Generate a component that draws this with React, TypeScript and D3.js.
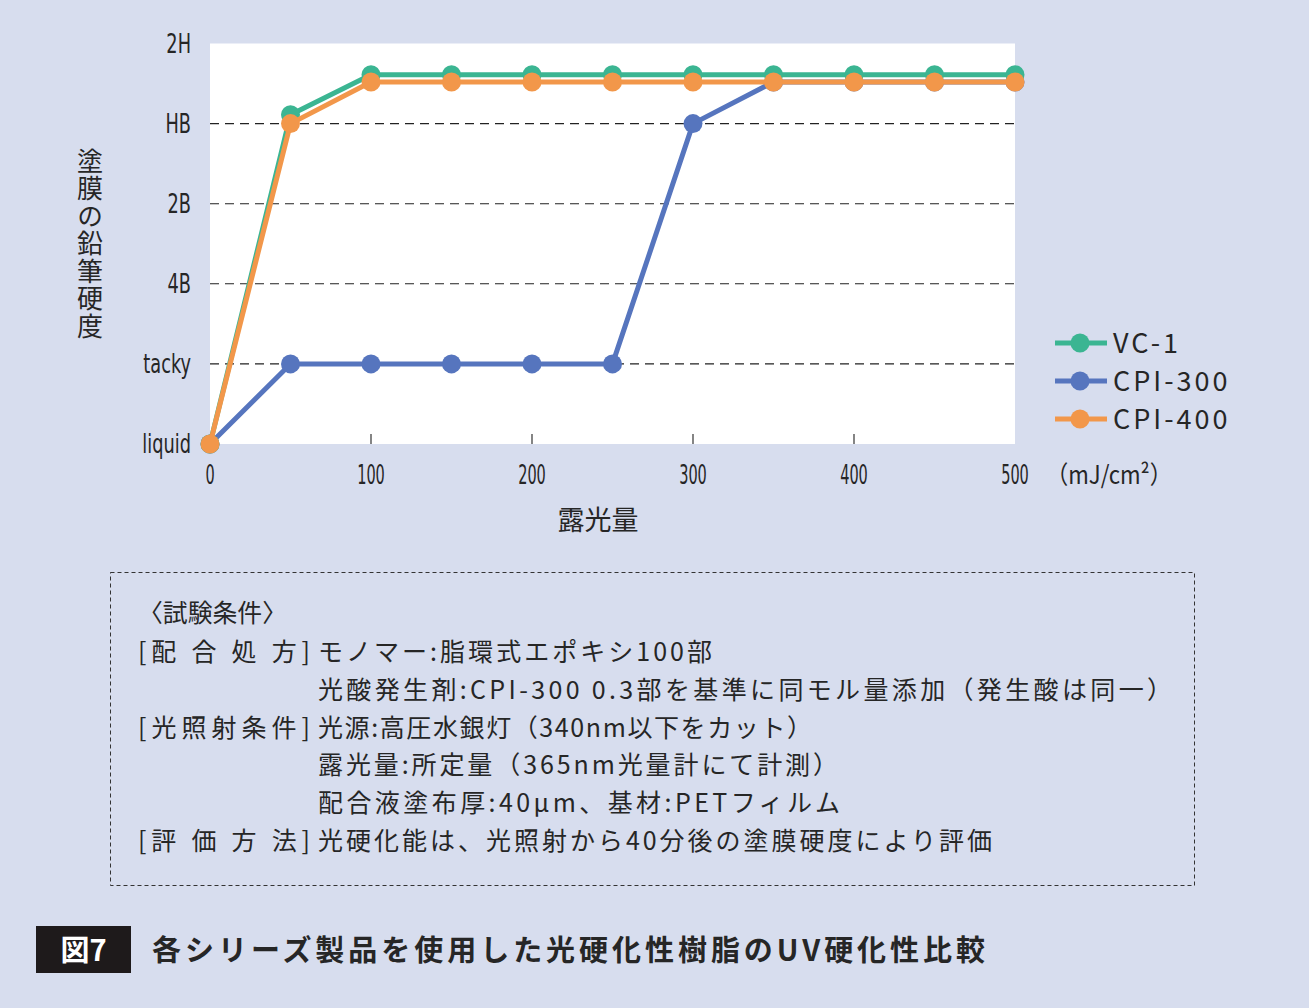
import React from "react";
import * as d3 from "d3";

const exposure = [0, 50, 100, 150, 200, 250, 300, 350, 400, 450, 500];
const vc1 = [0, 4.11, 4.61, 4.61, 4.61, 4.61, 4.61, 4.61, 4.61, 4.61, 4.61];
const cpi300 = [0, 1, 1, 1, 1, 1, 4, 4.52, 4.52, 4.52, 4.52];
const cpi400 = [0, 4.0, 4.52, 4.52, 4.52, 4.52, 4.52, 4.52, 4.52, 4.52, 4.52];

const hardnessLabels = ["liquid", "tacky", "4B", "2B", "HB", "2H"];
const xTicks = [0, 100, 200, 300, 400, 500];

const seriesNames = ["VC-1", "CPI-300", "CPI-400"];
const seriesColors = ["#3bb592", "#5675be", "#f2974a"];

const conditionTitle = "〈試験条件〉";
const conditionRows: [string, string][] = [
  ["[配 合 処 方]", "モノマー:脂環式エポキシ100部"],
  ["", "光酸発生剤:CPI-300 0.3部を基準に同モル量添加（発生酸は同一）"],
  ["[光照射条件]", "光源:高圧水銀灯（340nm以下をカット）"],
  ["", "露光量:所定量（365nm光量計にて計測）"],
  ["", "配合液塗布厚:40μm、基材:PETフィルム"],
  ["[評 価 方 法]", "光硬化能は、光照射から40分後の塗膜硬度により評価"],
];
const conditionWidths = [394, 854, 494, 520, 522, 674];

const figLabel = "図7";
const figTitle = "各シリーズ製品を使用した光硬化性樹脂のUV硬化性比較";
const yTitle = "塗膜の鉛筆硬度";
const xTitle = "露光量";
const xUnit = "（mJ/cm²）";

const W = 1309;
const H = 1008;
const BG = "#d7ddee";
const TEXT = "#262626";
const CJK = "'Noto Sans CJK JP', 'Noto Sans', sans-serif";
const NARROW = "'DejaVu Sans Condensed', 'Liberation Sans Narrow', sans-serif";

export default function App() {
  const x = d3.scaleLinear().domain([0, 500]).range([210, 1015]);
  const y = d3.scaleLinear().domain([0, 5]).range([444, 43.5]);
  const line = d3
    .line<number>()
    .x((_, i) => x(exposure[i]))
    .y((d) => y(d));

  const all = [vc1, cpi300, cpi400];
  const drawOrder = [1, 0, 2];

  return (
    <div style={{ position: "absolute", left: 0, top: 0, width: W, height: H }}>
      <svg width={W} height={H} viewBox={`0 0 ${W} ${H}`} style={{ display: "block" }}>
        <rect x={0} y={0} width={W} height={H} fill={BG} />
        {/* plot area */}
        <rect x={x(0)} y={y(5)} width={x(500) - x(0)} height={y(0) - y(5)} fill="#ffffff" />
        {/* grid lines */}
        {[1, 2, 3, 4].map((v) => (
          <line
            key={v}
            x1={x(0)}
            x2={x(500)}
            y1={y(v)}
            y2={y(v)}
            stroke="#222"
            strokeWidth={1.1}
            strokeDasharray="9,6"
          />
        ))}
        {/* x ticks */}
        {xTicks.slice(1, -1).map((t) => (
          <line key={t} x1={x(t)} x2={x(t)} y1={y(0) - 10} y2={y(0)} stroke="#333" strokeWidth={1.2} />
        ))}
        {/* y labels */}
        {hardnessLabels.map((l, i) => (
          <text
            key={l}
            transform={`translate(191,${y(i) + 9}) scale(0.76,1)`}
            textAnchor="end"
            fontFamily={NARROW}
            fontSize={26}
            fill={TEXT}
          >
            {l}
          </text>
        ))}
        {/* x labels */}
        {xTicks.map((t) => (
          <text
            key={t}
            transform={`translate(${x(t)},${484}) scale(0.62,1)`}
            textAnchor="middle"
            fontFamily={NARROW}
            fontSize={26}
            fill={TEXT}
          >
            {t}
          </text>
        ))}
        <text x={1046} y={484} fontFamily={CJK} fontSize={25} fill={TEXT} textLength={126} lengthAdjust="spacingAndGlyphs">
          {xUnit}
        </text>
        <text x={598} y={530} textAnchor="middle" fontFamily={CJK} fontSize={27} fill={TEXT}>
          {xTitle}
        </text>
        <text
          x={90}
          y={148}
          fontFamily={CJK}
          fontSize={26}
          fill={TEXT}
          style={{ writingMode: "vertical-rl" }}
          letterSpacing={1.5}
        >
          {yTitle}
        </text>
        {/* series */}
        {drawOrder.map((si) => (
          <g key={si}>
            <path d={line(all[si]) || ""} fill="none" stroke={seriesColors[si]} strokeWidth={5} strokeLinejoin="round" />
            {all[si].map((v, i) => (
              <circle key={i} cx={x(exposure[i])} cy={y(v)} r={9.5} fill={seriesColors[si]} />
            ))}
          </g>
        ))}
        {/* legend */}
        {seriesNames.map((n, i) => {
          const cy = 343 + i * 38;
          return (
            <g key={n}>
              <line x1={1055} x2={1107} y1={cy} y2={cy} stroke={seriesColors[i]} strokeWidth={5} />
              <circle cx={1080} cy={cy} r={9.5} fill={seriesColors[i]} />
              <text x={1113} y={cy + 10} fontFamily={CJK} fontSize={27} letterSpacing={3} fill={TEXT}>
                {n}
              </text>
            </g>
          );
        })}
        {/* conditions box */}
        <rect
          x={110.5}
          y={572.5}
          width={1084}
          height={313}
          fill="none"
          stroke="#333"
          strokeWidth={1}
          strokeDasharray="4,3"
        />
        <text x={138} y={622} fontFamily={CJK} fontSize={25} fill={TEXT} textLength={149} lengthAdjust="spacingAndGlyphs">
          {conditionTitle}
        </text>
        {conditionRows.map((r, i) => {
          const by = 661 + i * 37.8;
          return (
            <g key={i}>
              {r[0] && (
                <text x={138} y={by} fontFamily={CJK} fontSize={25} fill={TEXT} textLength={172} lengthAdjust="spacing">
                  {r[0]}
                </text>
              )}
              <text
                x={318}
                y={by}
                fontFamily={CJK}
                fontSize={25}
                fill={TEXT}
                textLength={conditionWidths[i]}
                lengthAdjust="spacing"
              >
                {r[1]}
              </text>
            </g>
          );
        })}
        {/* caption */}
        <rect x={36} y={926} width={95} height={47} fill="#1e1a1b" />
        <text x={83.5} y={961} textAnchor="middle" fontFamily={CJK} fontWeight={700} fontSize={29} fill="#ffffff">
          {figLabel}
        </text>
        <text
          x={152}
          y={961}
          fontFamily={CJK}
          fontWeight={700}
          fontSize={29}
          fill={TEXT}
          textLength={833}
          lengthAdjust="spacing"
        >
          {figTitle}
        </text>
      </svg>
    </div>
  );
}
